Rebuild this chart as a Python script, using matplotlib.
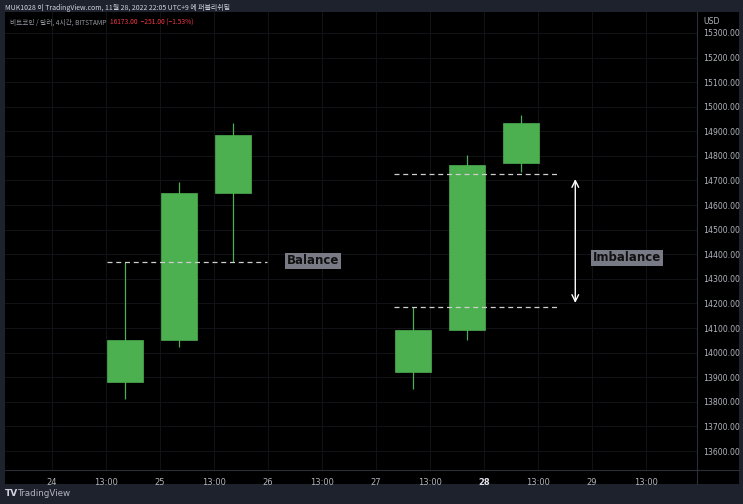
import matplotlib
matplotlib.use("Agg")
from matplotlib import pyplot as plt
from matplotlib.patches import Rectangle

# candle data (x = day of month, 4h chart)
days = [24.676, 25.176, 25.676, 27.343, 27.843, 28.343]
opens = [13881, 14052, 14649, 13921, 14092, 14771]
closes = [14052, 14649, 14885, 14092, 14763, 14934]
highs = [14369, 14694, 14934, 14186, 14804, 14967]
lows = [13812, 14023, 14369, 13852, 14052, 14735]

price_ticks = list(range(13600, 15301, 100))
time_ticks = [24, 24.5, 25, 25.5, 26, 26.5, 27, 27.5, 28, 28.5, 29, 29.5]
time_labels = ['24', '13:00', '25', '13:00', '26', '13:00', '27', '13:00', '28', '13:00', '29', '13:00']

balance_level = 14369
imb_top = 14727
imb_bottom = 14186

W, H = 743, 504
fig = plt.figure(figsize=(W / 100, H / 100), dpi=100, facecolor='#1e222d')
cjk = ['Noto Sans CJK KR', 'DejaVu Sans']

def px(x, y):
    return x / W, 1 - y / H

# black chart panel
fig.patches.append(Rectangle(px(5, 484), 734 / W, 472 / H, transform=fig.transFigure,
                             facecolor='black', edgecolor='none', zorder=-10))

l, t = px(5, 12)
r, b = px(697, 470)
ax = fig.add_axes([l, b, r - l, t - b])
ax.set_facecolor('black')
ax.set_xlim(23.565, 29.972)
ax.set_ylim(13523, 15385)

# grid
for p in price_ticks:
    ax.axhline(p, color='#111215', lw=0.8, zorder=0)
for d in time_ticks:
    ax.axvline(d, color='#111215', lw=0.8, zorder=0)

green = '#4caf50'
w = 0.333
for x, o, c, hi, lo in zip(days, opens, closes, highs, lows):
    ax.vlines(x, lo, hi, color=green, lw=0.9, zorder=2)
    ax.add_patch(Rectangle((x - w / 2, o), w, c - o, facecolor=green, edgecolor=green, lw=0.5, zorder=3))

# balance / imbalance markers
ax.hlines(balance_level, days[0] - w / 2, 25.99, colors='#cfcfcf', linestyles=(0, (4, 3)), lw=0.9, zorder=4)
ax.hlines([imb_top, imb_bottom], 27.165, 28.675, colors='#cfcfcf', linestyles=(0, (4, 3)), lw=0.9, zorder=4)
ax.annotate('', xy=(28.845, imb_top - 10), xytext=(28.845, imb_bottom + 5),
            arrowprops=dict(arrowstyle='<->', color='white', lw=1.0, mutation_scale=12), zorder=5)

box = dict(boxstyle='square,pad=0.12', facecolor='#787b86', edgecolor='none')
ax.text(26.417, 14373, 'Balance', ha='center', va='center', fontsize=8.5, fontweight='bold',
        color='#111111', bbox=box, zorder=6)
ax.text(29.324, 14385, 'Imbalance', ha='center', va='center', fontsize=8.5, fontweight='bold',
        color='#111111', bbox=box, zorder=6)

# axes
ax.yaxis.tick_right()
ax.set_yticks(price_ticks)
ax.set_yticklabels([f'{p}.00' for p in price_ticks])
ax.set_xticks(time_ticks)
ax.set_xticklabels(time_labels)
ax.tick_params(axis='both', length=0, colors='#b2b5be', labelsize=6.0)
ax.tick_params(axis='y', pad=4.5, labelsize=5.6)
ax.tick_params(axis='x', pad=6)
for lab in ax.get_xticklabels():
    if lab.get_text() == '28':
        lab.set_fontweight('bold')
        lab.set_color('#e0e3eb')
for s in ax.spines.values():
    s.set_visible(False)

# separators
fig.add_artist(plt.Line2D([697 / W, 697 / W], [px(0, 12)[1], px(0, 484)[1]], color='#2a2e39', lw=0.8))
fig.add_artist(plt.Line2D([5 / W, 739 / W], [px(0, 470)[1]] * 2, color='#2a2e39', lw=0.8))

fig.text(*px(703, 21), 'USD', fontsize=5.6, color='#b2b5be', va='center')

# header texts
fig.text(*px(5, 8), 'MUK1028 이 TradingView.com, 11월 28, 2022 22:05 UTC+9 에 퍼블리쉬됨',
         family=cjk, fontsize=5.0, color='#d1d4dc', va='center')
sym = fig.text(*px(10, 23), '비트코인 / 달러, 4시간, BITSTAMP', family=cjk, fontsize=4.8,
               color='#9598a1', va='center')
renderer = fig.canvas.get_renderer()
bb = sym.get_window_extent(renderer)
fig.text((bb.x1 + 4) / W, px(0, 23)[1], '16173.00  −251.00 (−1.53%)', family=cjk, fontsize=4.8,
         color='#f23645', va='center')

# footer
fig.text(*px(5, 494), 'TV', fontsize=6.5, fontweight='bold', color='#d1d4dc', va='center')
fig.text(*px(17, 494), 'TradingView', fontsize=6.3, color='#b2b5be', va='center')

fig.savefig('out.png', dpi=100, facecolor=fig.get_facecolor())
